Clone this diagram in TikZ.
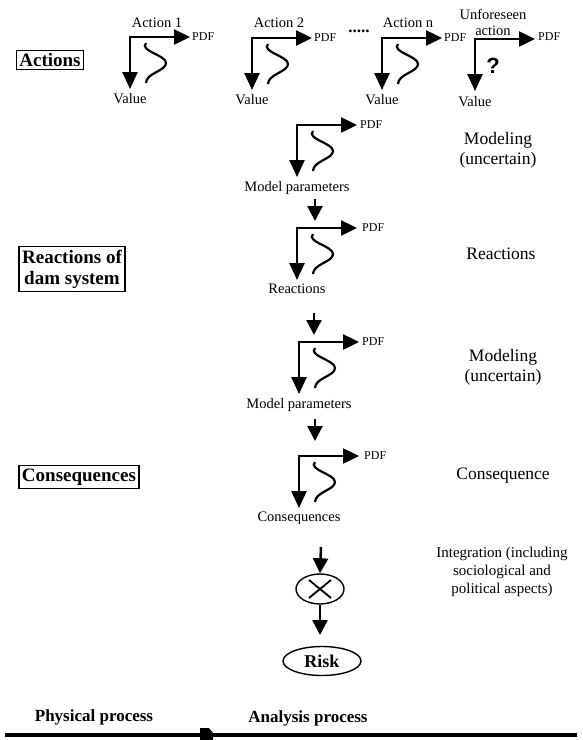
\documentclass[tikz,border=0pt]{standalone}
\usepackage{fontspec}
\setmainfont{Liberation Serif}
\newfontfamily\qfont{Liberation Sans}
\usetikzlibrary{arrows.meta,positioning,shapes.geometric}

\tikzset{
  dbl/.style={line width=2.5pt,{Triangle[length=16pt,width=15pt]}-{Triangle[length=17pt,width=15pt]}},
  sarr/.style={line width=2.5pt,-{Triangle[length=15pt,width=15pt]}},
  bell/.style={line width=2.2pt},
  lbl/.style={font=\fontsize{14.5}{16}\selectfont,inner sep=0pt},
  pdf/.style={font=\fontsize{12}{14}\selectfont,inner sep=0pt},
  side/.style={font=\fontsize{17.5}{20}\selectfont,align=center,inner sep=0pt},
  bbox/.style={draw,line width=1.3pt,font=\bfseries\fontsize{19}{21}\selectfont,align=center,inner sep=3pt},
  pics/axes/.style={code={
    \coordinate (-c) at (0,0);
    \coordinate (-h) at (60,0);
    \coordinate (-v) at (0,52);
    \draw[dbl] (-h) -- (-c) -- (-v);
  }},
  pics/glyph/.style={code={
    \coordinate (-c) at (0,0);
    \coordinate (-h) at (60,0);
    \coordinate (-v) at (0,52);
    \draw[dbl] (-h) -- (-c) -- (-v);
    \draw[bell] (16,6) .. controls (9,14) and (36,18) .. (36,26)
      .. controls (36,34) and (16,36) .. (16,46);
  }}
}

\begin{document}
\begin{tikzpicture}[x=1pt,y=-1pt]
\useasboundingbox (0,0) rectangle (583,740);

% actions
\node[bbox] (actions) at (50,60) {Actions};
\pic (g1) at (130,37) {glyph};
\pic (g2) at (252,38) {glyph};
\pic (gn) at (382,38) {glyph};
\pic (gu) at (475,39) {axes};
\node[lbl] (act1) at (157,23) {Action 1};
\node[lbl] (act2) at (279,23) {Action 2};
\node[lbl] (actn) at (408,23) {Action n};
\node[lbl,align=center] (actu) at (493,22) {Unforeseen\\action};
\node[font=\bfseries\fontsize{17}{17}\selectfont,inner sep=0pt] (dots) at (359,31) {.....};
\node[pdf,right=2pt of g1-h] (pdf1) {PDF};
\node[pdf,right=2pt of g2-h] (pdf2) {PDF};
\node[pdf,right=2pt of gn-h] (pdfn) {PDF};
\node[pdf,right=3pt of gu-h,yshift=2pt] (pdfu) {PDF};
\node[lbl,below=4pt of g1-v] (val1) {Value};
\node[lbl,below=4pt of g2-v] (val2) {Value};
\node[lbl,below=4pt of gn-v] (valn) {Value};
\node[lbl,below=5pt of gu-v] (valu) {Value};
\node[font=\qfont\bfseries\fontsize{22}{22}\selectfont,inner sep=0pt] (q) at (493,66) {?};

% dam system
\pic (ga) at (297,125) {glyph};
\node[pdf,right=3pt of ga-h] (pdfa) {PDF};
\node[lbl,below=4pt of ga-v] (mp1) {Model parameters};
\coordinate (a1s) at (315,199);
\coordinate (a1e) at (315,221);
\draw[sarr] (a1s) -- (a1e);
\pic (gb) at (297,228) {glyph};
\node[pdf,right=5pt of gb-h] (pdfb) {PDF};
\node[lbl,below=4pt of gb-v] (react) {Reactions};
\node[bbox] (dam) at (72,269) {Reactions of\\dam system};

\coordinate (a2s) at (314,313);
\coordinate (a2e) at (314,335);
\draw[sarr] (a2s) -- (a2e);
\pic (gc) at (299,342) {glyph};
\node[pdf,right=3pt of gc-h] (pdfc) {PDF};
\node[lbl,below=4pt of gc-v] (mp2) {Model parameters};
\coordinate (a3s) at (315,419);
\coordinate (a3e) at (315,441);
\draw[sarr] (a3s) -- (a3e);
\pic (gd) at (299,456) {glyph};
\node[pdf,right=5pt of gd-h] (pdfd) {PDF};
\node[lbl,below=4pt of gd-v] (cons) {Consequences};
\node[bbox] (consbox) at (79,477) {Consequences};

% risk
\node[draw,ellipse,line width=1.4pt,minimum width=48pt,minimum height=30pt] (mult) at (320,589) {};
\draw[line width=1.8pt] ([shift={(-11pt,-9pt)}]mult.center) -- ([shift={(11pt,9pt)}]mult.center)
  ([shift={(-11pt,9pt)}]mult.center) -- ([shift={(11pt,-9pt)}]mult.center);
\coordinate (a4s) at (321,547);
\draw[sarr] (a4s) -- (mult.north);
\coordinate (a5e) at (320,635);
\draw[sarr] (mult.south) -- (a5e);
\node[draw,ellipse,line width=1.4pt,minimum width=78pt,minimum height=29pt,inner sep=0pt,
  font=\bfseries\fontsize{18}{18}\selectfont] (risk) at (322,661) {Risk};

% right column
\node[side] (mod1) at (498,150) {Modeling\\(uncertain)};
\node[side] (reac) at (501,254) {Reactions};
\node[side] (mod2) at (503,367) {Modeling\\(uncertain)};
\node[side] (conq) at (503,476) {Consequence};
\node[side,font=\fontsize{15}{18}\selectfont] (integ) at (502,572) {Integration (including\\sociological and\\political aspects)};

% process line
\node[font=\bfseries\fontsize{17}{17}\selectfont,inner sep=0pt] (phys) at (94,717) {Physical process};
\node[font=\bfseries\fontsize{17}{17}\selectfont,inner sep=0pt] (anal) at (308,718) {Analysis process};
\coordinate (la) at (5,735);
\coordinate (lb) at (577,735);
\draw[line width=4.5pt] (la) -- (lb);
\fill (200,728) -- (209,728) -- (213,733) -- (213,741) -- (200,741) -- cycle;
\end{tikzpicture}
\end{document}
